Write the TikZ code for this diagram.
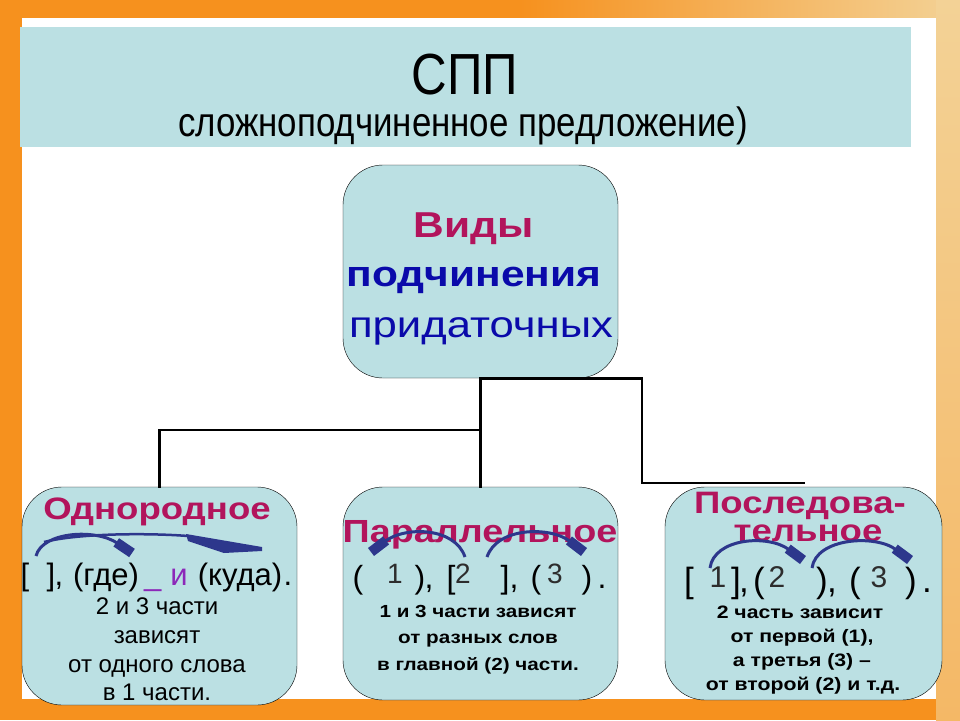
\documentclass[tikz,border=0pt]{standalone}
\usepackage{fontspec}
\setmainfont{Liberation Sans}
\newfontfamily\narrowfont[FakeStretch=0.85]{Liberation Sans}
\newfontfamily\headfont[FakeStretch=1.18]{Liberation Sans}
\usetikzlibrary{arrows.meta, positioning}

\definecolor{slideorange}{RGB}{246,145,30}
\definecolor{slidepeach}{RGB}{243,210,150}
\definecolor{paneteal}{RGB}{187,224,227}
\definecolor{kindred}{RGB}{178,20,92}
\definecolor{kindblue}{RGB}{10,10,170}
\definecolor{linkviolet}{RGB}{140,40,185}
\definecolor{swooshblue}{RGB}{45,55,140}
\definecolor{digitgrey}{RGB}{45,45,45}

\newcommand{\fs}[1]{\fontsize{#1}{#1}\selectfont}

\begin{document}
\begin{tikzpicture}[x=1pt, y=-1pt,
    kindbox/.style={draw=black, thin, fill=paneteal, rounded corners=40pt,
                    minimum width=275pt, minimum height=213pt, inner sep=0pt},
    branch/.style={line width=2.6pt, line cap=rect},
    swoosh/.style={swooshblue, line width=3pt,
                   -{Rectangle[length=19pt, width=10pt]}},
    txt/.style={anchor=base, inner sep=0pt},
    pm/.style={anchor=base, inner sep=0pt, font=\fs{#1}},
    dg/.style={anchor=base, inner sep=0pt, font=\fs{#1}, text=digitgrey, yshift={#1*0.15pt}}]

    % Slide background
    \fill[slideorange] (0,0) rectangle (960,720);
    \shade[left color=slideorange, right color=slidepeach] (520,0) rectangle (960,20);
    \shade[top color=slidepeach, bottom color=slidepeach!60!slideorange] (936,0) rectangle (960,720);
    \fill[white] (22,18) rectangle (936,699);
    \fill[paneteal] (20,27) rectangle (911,147);

    % Title
    \node[txt] (spp) at (465,94) {\narrowfont\fs{58}СПП};
    \node[txt] (spptext) at (463,136) {\narrowfont\fs{41}сложноподчиненное предложение)};

    % Boxes
    \node[kindbox] (vid) at (480.5,271.5) {};
    \node[kindbox, minimum height=218pt] (odn) at (159.5,596) {};
    \node[kindbox] (par) at (480.5,593.5) {};
    \node[kindbox, minimum width=277pt] (pos) at (803.5,593.5) {};

    % Branches
    \coordinate (fork) at (481,430);
    \coordinate (elbow) at (642,483);
    \draw[branch] (vid.south) -- (par.north);
    \draw[branch] (fork) -| (odn.north);
    \draw[branch] (vid.south) -| (elbow) -- (elbow -| pos.north);

    % Top box text
    \node[txt, kindred] (vid1) at (474,237) {\headfont\fs{36}\bfseries Виды};
    \node[txt, kindblue] (vid2) at (474,286) {\headfont\fs{36}\bfseries подчинения};
    \node[txt, kindblue] (vid3) at (481,337) {\headfont\fs{37}придаточных};

    % Left box
    \node[txt, kindred] (odn1) at (157,519) {\headfont\fs{31}\bfseries Однородное};
    \draw[swooshblue, line width=2.5pt] (44,542) .. controls (80,533) and (150,533) .. (188,536);
    \fill[swooshblue] (186,534) -- (262,547) -- (262,551) -- (224,553) -- (188,541) -- cycle;
    \draw[swoosh] (36,556) .. controls (42,532) and (95,528) .. (132,553);
    \foreach \x/\g in {25/{[}, 51/{]}, 59/{,}, 106/{(где)}, 240/{(куда)}, 288/{.}}
        \node[pm=31] (odn-\x) at (\x,585) {\g};
    \node[pm=31, text=linkviolet] (odn-link) at (166,585) {\_\hspace{9pt}и};
    \node[txt] (odn3) at (157,614) {\fs{24}2 и 3 части};
    \node[txt] (odn4) at (157,643) {\fs{24}зависят};
    \node[txt] (odn5) at (157,672) {\fs{24}от одного слова};
    \node[txt] (odn6) at (157,700) {\fs{24}в 1 части.};

    % Middle box
    \node[txt, kindred] (par1) at (480,542) {\headfont\fs{32}\bfseries Параллельное};
    \draw[swoosh] (465,557) .. controls (455,527) and (405,526) .. (371,552);
    \draw[swoosh] (487,557) .. controls (497,527) and (550,526) .. (584,552);
    \foreach \x/\g/\s/\z in {358/{(}/pm/32, 395/1/dg/28, 420/{)}/pm/32, 429/{,}/pm/32,
                             451/{[}/pm/32, 463/2/dg/28, 505/{]}/pm/32, 514/{,}/pm/32,
                             536/{(}/pm/32, 555/3/dg/28, 587/{)}/pm/32, 602/{.}/pm/32}
        \node[\s=\z] (par-\x) at (\x,588) {\g};
    \node[txt] (par3) at (478,617) {\headfont\fs{17.5}\bfseries 1 и 3 части зависят};
    \node[txt] (par4) at (478,643) {\headfont\fs{17.5}\bfseries от разных слов};
    \node[txt] (par5) at (478,670) {\headfont\fs{17.5}\bfseries в главной (2) части.};

    % Right box
    \node[txt, kindred] (pos1) at (800,513) {\headfont\fs{31}\bfseries Последова-};
    \node[txt, kindred] (pos2) at (808,541) {\headfont\fs{31}\bfseries тельное};
    \draw[swoosh] (710,568) .. controls (714,538) and (768,534) .. (803,560);
    \draw[swoosh] (812,568) .. controls (816,538) and (875,534) .. (910,560);
    \foreach \x/\g/\s/\z in {689/{[}/pm/35, 718/1/dg/30, 736/{]}/pm/35, 744/{,}/pm/35,
                             759/{(}/pm/35, 777/2/dg/30, 822/{)}/pm/35, 832/{,}/pm/35,
                             855/{(}/pm/35, 879/3/dg/30, 911/{)}/pm/35, 927/{.}/pm/35}
        \node[\s=\z] (pos-\x) at (\x,592) {\g};
    \node[txt] (pos4) at (800,618) {\headfont\fs{18}\bfseries 2 часть зависит};
    \node[txt] (pos5) at (802,642) {\headfont\fs{18}\bfseries от первой (1),};
    \node[txt] (pos6) at (802,666) {\headfont\fs{18}\bfseries а третья (3) –};
    \node[txt] (pos7) at (803,690) {\headfont\fs{18}\bfseries от второй (2) и т.д.};
\end{tikzpicture}
\end{document}
